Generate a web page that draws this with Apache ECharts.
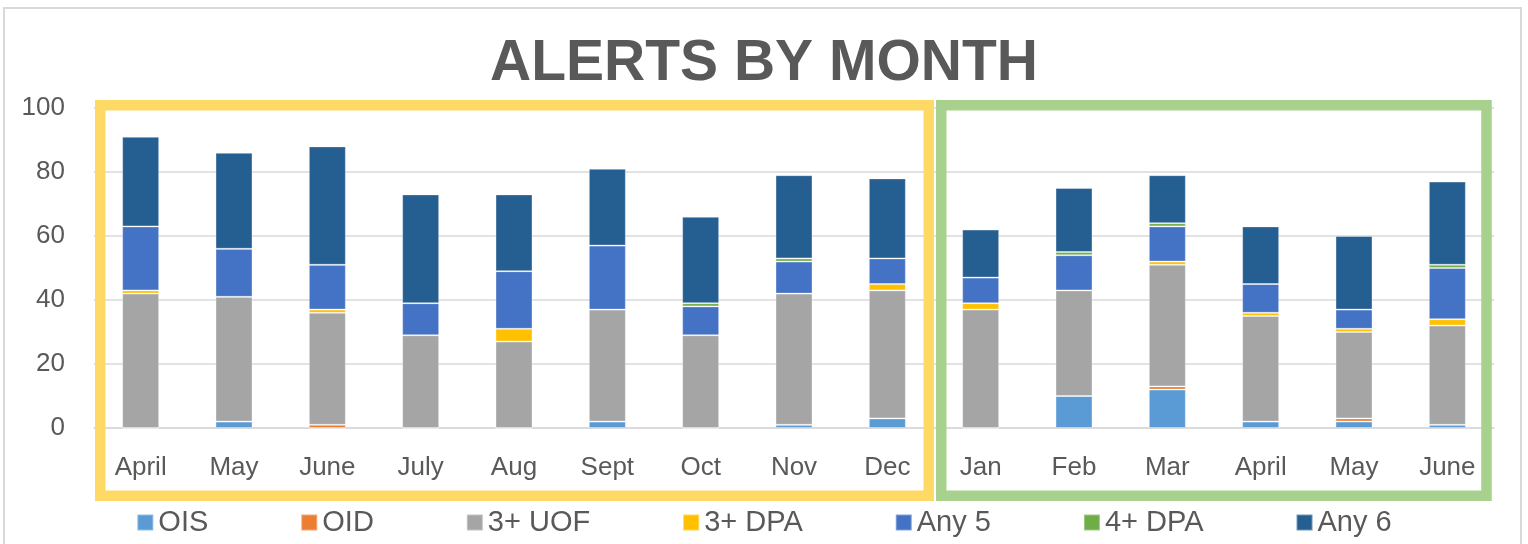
<!DOCTYPE html>
<html>
<head>
<meta charset="utf-8">
<script src="https://cdn.jsdelivr.net/npm/echarts@6/dist/echarts.min.js"></script>
<style>
html,body{margin:0;padding:0;background:#fff;}
#chart{width:1528px;height:544px;}
</style>
</head>
<body>
<div id="chart"></div>
<script>
const months = ['April','May','June','July','Aug','Sept','Oct','Nov','Dec','Jan','Feb','Mar','April','May','June'];
const yTicks = [0, 20, 40, 60, 80, 100];
const ois  = [0, 2, 0, 0, 0, 2, 0, 1, 3, 0, 10, 12, 2, 2, 1];
const oid  = [0, 0, 1, 0, 0, 0, 0, 0, 0, 0, 0, 1, 0, 1, 0];
const uof3 = [42, 39, 35, 29, 27, 35, 29, 41, 40, 37, 33, 38, 33, 27, 31];
const dpa3 = [1, 0, 1, 0, 4, 0, 0, 0, 2, 2, 0, 1, 1, 1, 2];
const any5 = [20, 15, 14, 10, 18, 20, 9, 10, 8, 8, 11, 11, 9, 6, 16];
const dpa4 = [0, 0, 0, 0, 0, 0, 1, 1, 0, 0, 1, 1, 0, 0, 1];
const any6 = [28, 30, 37, 34, 24, 24, 27, 26, 25, 15, 20, 15, 18, 23, 26];

const seriesDefs = [
  {name: 'OIS', data: ois, color: '#5B9BD5'},
  {name: 'OID', data: oid, color: '#ED7D31'},
  {name: '3+ UOF', data: uof3, color: '#A5A5A5'},
  {name: '3+ DPA', data: dpa3, color: '#FFC000'},
  {name: 'Any 5', data: any5, color: '#4472C4'},
  {name: '4+ DPA', data: dpa4, color: '#70AD47'},
  {name: 'Any 6', data: any6, color: '#255E91'}
];

const font = '"Liberation Sans", Arial, sans-serif';
const chart = echarts.init(document.getElementById('chart'));
chart.setOption({
  animation: false,
  backgroundColor: '#fff',
  textStyle: {fontFamily: font},
  title: {
    text: 'ALERTS BY MONTH',
    left: 'center',
    top: 31,
    textStyle: {fontSize: 57, fontWeight: 'bold', color: '#595959', fontFamily: font}
  },
  legend: {
    left: 'center',
    top: 503,
    itemWidth: 16,
    itemHeight: 16,
    itemGap: 92,
    icon: 'rect',
    textStyle: {fontSize: 29, color: '#595959', fontFamily: font},
    data: seriesDefs.map(s => s.name)
  },
  grid: {left: 94, right: 34, top: 108, height: 320, containLabel: false},
  xAxis: {
    type: 'category',
    data: months,
    axisLine: {show: true, lineStyle: {color: '#D9D9D9', width: 1.5}},
    axisTick: {show: false},
    axisLabel: {fontSize: 26, color: '#595959', margin: 27, interval: 0}
  },
  yAxis: {
    type: 'value',
    min: yTicks[0],
    max: yTicks[yTicks.length - 1],
    interval: 20,
    axisLine: {show: false},
    axisTick: {show: false},
    splitLine: {lineStyle: {color: '#D9D9D9', width: 1.5}},
    axisLabel: {fontSize: 26, color: '#595959', margin: 29}
  },
  series: seriesDefs.map(s => ({
    name: s.name,
    type: 'bar',
    stack: 'total',
    barWidth: 37,
    data: s.data,
    itemStyle: {color: s.color, borderColor: 'rgba(255,255,255,0.35)', borderWidth: 1}
  })),
  graphic: [
    {type: 'rect', z: 0, silent: true,
     shape: {x: 4, y: 8, width: 1517, height: 560},
     style: {fill: null, stroke: '#D9D9D9', lineWidth: 2}},
    {type: 'rect', z: 100, silent: true,
     shape: {x: 100.25, y: 105.25, width: 828.5, height: 390.5},
     style: {fill: null, stroke: '#FFD966', lineWidth: 10.5}},
    {type: 'rect', z: 100, silent: true,
     shape: {x: 941.25, y: 105.25, width: 545.25, height: 390.5},
     style: {fill: null, stroke: '#A9D18E', lineWidth: 10.5}}
  ]
});
</script>
</body>
</html>
